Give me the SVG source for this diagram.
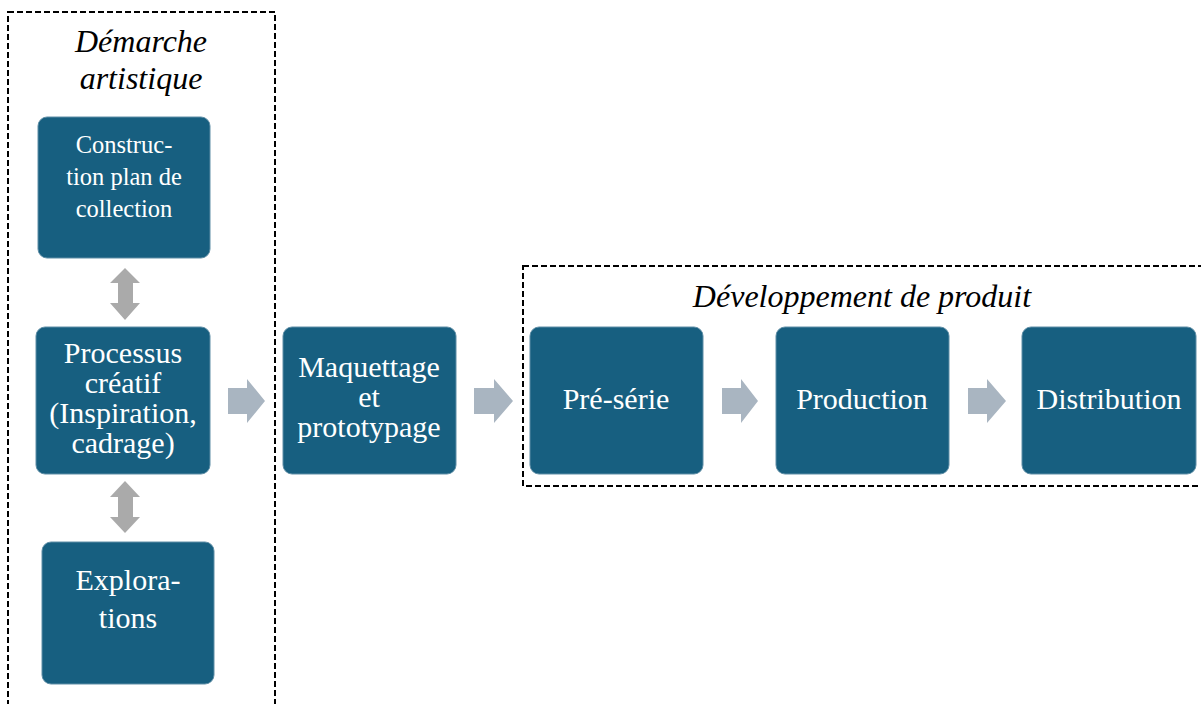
<svg xmlns="http://www.w3.org/2000/svg" width="1201" height="704" viewBox="0 0 1201 704">
<style>
.node{fill:#175f80;stroke:#5f8ea6;stroke-width:1}
.t{font-family:'Liberation Serif','Times New Roman',serif;fill:#ffffff;text-anchor:middle;font-size:30px}
.s{font-size:24.5px}
.title{font-family:'Liberation Serif','Times New Roman',serif;font-style:italic;fill:#000000;text-anchor:middle;font-size:32px}
.dash{fill:none;stroke:#000000;stroke-width:2;stroke-dasharray:6 3}
.ra{fill:#a9b5c1}
.da{fill:#aaaaaa}
</style>
<rect width="1201" height="704" fill="#ffffff"/>
<g id="group-artistique">
<rect class="dash" x="8" y="12" width="267" height="710"/>
<text class="title" x="141" y="52">Démarche</text>
<text class="title" x="141" y="89">artistique</text>
</g>
<g id="group-developpement">
<rect class="dash" x="523" y="266" width="700" height="220"/>
<text class="title" x="862" y="307">Développement de produit</text>
</g>
<g id="connectors">
<path class="da" d="M125,268 L140,283 L133,283 L133,303 L140,303 L125,320 L110,303 L118,303 L118,283 L110,283 Z"/>
<path class="da" d="M125,481 L140,497 L133,497 L133,517 L140,517 L125,533 L110,517 L118,517 L118,497 L110,497 Z"/>
<path class="ra" d="M228,388 L247,388 L247,379 L265,401 L247,423 L247,414 L228,414 Z"/>
<path class="ra" d="M474,388 L494,388 L494,379 L513,401 L494,423 L494,414 L474,414 Z"/>
<path class="ra" d="M722,388 L741,388 L741,379 L758,401 L741,423 L741,414 L722,414 Z"/>
<path class="ra" d="M968,388 L987,388 L987,379 L1006,401 L987,423 L987,414 L968,414 Z"/>
</g>
<g id="node-construction">
<rect class="node" x="38" y="117" width="172" height="141" rx="9"/>
<text class="t s" x="124" y="153">Construc-</text>
<text class="t s" x="124" y="185">tion plan de</text>
<text class="t s" x="124" y="217">collection</text>
</g>
<g id="node-processus">
<rect class="node" x="36" y="327" width="174" height="147" rx="9"/>
<text class="t" x="123" y="363">Processus</text>
<text class="t" x="123" y="393">créatif</text>
<text class="t" x="123" y="423">(Inspiration,</text>
<text class="t" x="123" y="453">cadrage)</text>
</g>
<g id="node-explorations">
<rect class="node" x="42" y="542" width="172" height="142" rx="9"/>
<text class="t" x="128" y="590">Explora-</text>
<text class="t" x="128" y="628">tions</text>
</g>
<g id="node-maquettage">
<rect class="node" x="283" y="327" width="173" height="147" rx="9"/>
<text class="t" x="369" y="377">Maquettage</text>
<text class="t" x="369" y="407">et</text>
<text class="t" x="369" y="437">prototypage</text>
</g>
<g id="node-preserie">
<rect class="node" x="530" y="327" width="173" height="147" rx="9"/>
<text class="t" x="616" y="409">Pré-série</text>
</g>
<g id="node-production">
<rect class="node" x="776" y="327" width="173" height="147" rx="9"/>
<text class="t" x="862" y="409">Production</text>
</g>
<g id="node-distribution">
<rect class="node" x="1022" y="327" width="174" height="147" rx="9"/>
<text class="t" x="1109" y="409">Distribution</text>
</g>
</svg>
